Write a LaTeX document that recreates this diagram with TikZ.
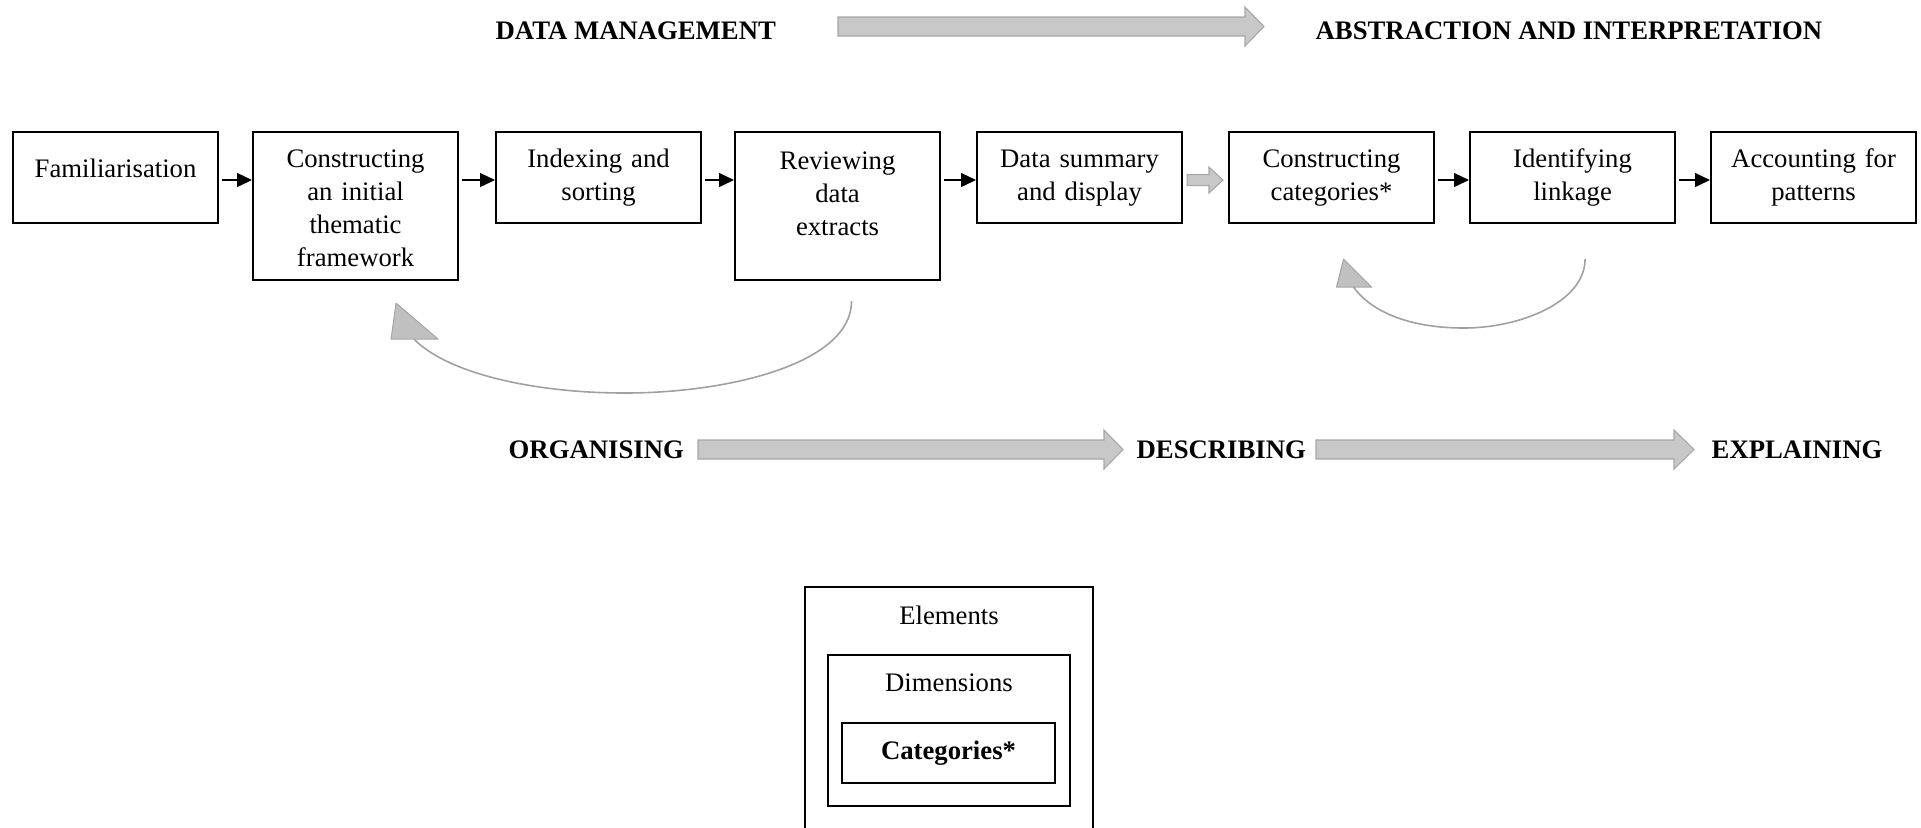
\documentclass[tikz,border=0pt]{standalone}
\usepackage{fontspec}
\setmainfont{Liberation Serif}
\usepackage{tikz}
\usetikzlibrary{positioning, arrows.meta, calc}
\definecolor{fatgray}{RGB}{200,200,200}
\definecolor{edgegray}{RGB}{166,166,166}
\definecolor{headgray}{RGB}{192,192,192}
\definecolor{loopgray}{RGB}{160,160,160}
\newcommand{\stagefont}{\fontsize{7.6}{9.4}\selectfont}
% block arrow: tail, tip, shaft half, head half, head length
\newcommand{\blockarrow}[5]{%
	\filldraw [fat] ($(#1)+(0,#3)$) -- ($(#2)+(-#5,#3)$) -- ($(#2)+(-#5,#4)$) -- (#2)
		-- ($(#2)+(-#5,-#4)$) -- ($(#2)+(-#5,-#3)$) -- ($(#1)+(0,-#3)$) -- cycle;}
\tikzset{%
	stage/.style = {name = #1, draw, line width = 0.6pt, anchor = north west, inner sep = 0pt,
		minimum width = 2.05cm, minimum height = 0.91cm, text width = 1.9cm, align = center,
		text height = 0.2cm, text depth = 0.41cm, font = \stagefont},
	tall/.style = {minimum height = 1.48cm, text depth = 0.98cm},
	phase/.style = {name = #1, anchor = base west, inner sep = 0pt, font = \stagefont\bfseries},
	nest/.style = {name = #1, draw, line width = 0.6pt, anchor = north, inner sep = 0pt},
	flow/.style = {-{Triangle[length = 0.15cm, width = 0.14cm]}, line width = 0.4pt, shorten <= 0.03cm},
	fat/.style = {fill = fatgray, draw = edgegray, line width = 0.3pt},
	feedback/.style = {draw = loopgray, line width = 0.45pt},
	head/.style = {fill = headgray, draw = edgegray, line width = 0.3pt, line join = round}
}

\begin{document}
\begin{tikzpicture}
			\useasboundingbox (0,0) rectangle (19.21,-8.27);
			\clip (0,0) rectangle (19.21,-8.27);
			% phases
			\node [phase = {dm}] at (4.95,-0.39) {DATA MANAGEMENT};
			\node [phase = {ai}] at (13.15,-0.39) {ABSTRACTION AND INTERPRETATION};
			\node [phase = {org}] at (5.08,-4.58) {ORGANISING};
			\node [phase = {desc}] at (11.36,-4.58) {DESCRIBING};
			\node [phase = {expl}] at (17.11,-4.58) {EXPLAINING};
			\coordinate (dm-out) at (8.38,-0.265);
			\coordinate (ai-in) at (12.64,-0.265);
			\coordinate (org-out) at (6.98,-4.495);
			\coordinate (desc-in) at (11.23,-4.495);
			\coordinate (desc-out) at (13.16,-4.495);
			\coordinate (expl-in) at (16.94,-4.495);
			\blockarrow{dm-out}{ai-in}{0.095}{0.195}{0.19}
			\blockarrow{org-out}{desc-in}{0.095}{0.195}{0.19}
			\blockarrow{desc-out}{expl-in}{0.095}{0.195}{0.20}
			% stages
			\node [stage = {fam}, text depth = 0.20cm] at (0.12,-1.31) {Familiarisation};
			\node [stage = {initial}, tall] at (2.52,-1.31) {Constructing\\an initial\\thematic\\framework};
			\node [stage = {index}] at (4.95,-1.31) {Indexing and\\sorting};
			\node [stage = {review}, tall, text depth = 0.94cm] at (7.34,-1.31) {Reviewing\\data\\extracts};
			\node [stage = {summary}] at (9.76,-1.31) {Data summary\\and display};
			\node [stage = {categ}] at (12.28,-1.31) {Constructing\\categories*};
			\node [stage = {linkage}] at (14.69,-1.31) {Identifying\\linkage};
			\node [stage = {patterns}] at (17.10,-1.31) {Accounting for\\patterns};
			\coordinate (lane) at (0,-1.80);
			\path [flow] (fam.east |- lane) edge (initial.west |- lane);
			\path [flow] (initial.east |- lane) edge (index.west |- lane);
			\path [flow] (index.east |- lane) edge (review.west |- lane);
			\path [flow] (review.east |- lane) edge (summary.west |- lane);
			\path [flow] (categ.east |- lane) edge (linkage.west |- lane);
			\path [flow] (linkage.east |- lane) edge (patterns.west |- lane);
			\coordinate (sum-out) at ($(summary.east)+(0.04,-0.025)$);
			\coordinate (categ-in) at ($(categ.west)+(-0.05,-0.025)$);
			\blockarrow{sum-out}{categ-in}{0.055}{0.13}{0.14}
			% feedback loops
			\coordinate (rev-out) at ($(review.south)+(0.14,-0.20)$);
			\coordinate (init-in) at ($(initial.south)+(0.585,-0.58)$);
			\draw [feedback] (rev-out) .. controls +(0,-0.62) and +(1.05,0) .. (6.25,-3.93)
				.. controls +(-0.95,0) and +(0.32,-0.33) .. (init-in);
			\filldraw [head] ($(init-in)+(-0.23,0)$) -- ($(init-in)+(-0.18,0.36)$) -- ($(init-in)+(0.24,0)$) -- cycle;
			\coordinate (link-out) at ($(linkage.south)+(0.125,-0.35)$);
			\coordinate (categ-back) at ($(categ.south)+(0.22,-0.63)$);
			\draw [feedback] (link-out) .. controls +(0,-0.43) and +(0.56,0) .. (14.64,-3.28)
				.. controls +(-0.54,0) and +(0.18,-0.25) .. (categ-back);
			\filldraw [head] ($(categ-back)+(-0.17,0)$) -- ($(categ-back)+(-0.10,0.28)$) -- ($(categ-back)+(0.18,0)$) -- cycle;
			% nested boxes
			\node [nest = {elements}, minimum width = 2.88cm, minimum height = 2.8cm] at (9.49,-5.86) {};
			\node [nest = {dims}, minimum width = 2.42cm, minimum height = 1.51cm] at (9.49,-6.54) {};
			\node [nest = {categs}, minimum width = 2.13cm, minimum height = 0.60cm, font = \stagefont\bfseries] at (9.485,-7.22) {Categories*};
			\node [font = \stagefont, below = 0.08cm of elements.north] (elemtext) {Elements};
			\node [font = \stagefont, below = 0.07cm of dims.north] (dimtext) {Dimensions};
\end{tikzpicture}
\end{document}
